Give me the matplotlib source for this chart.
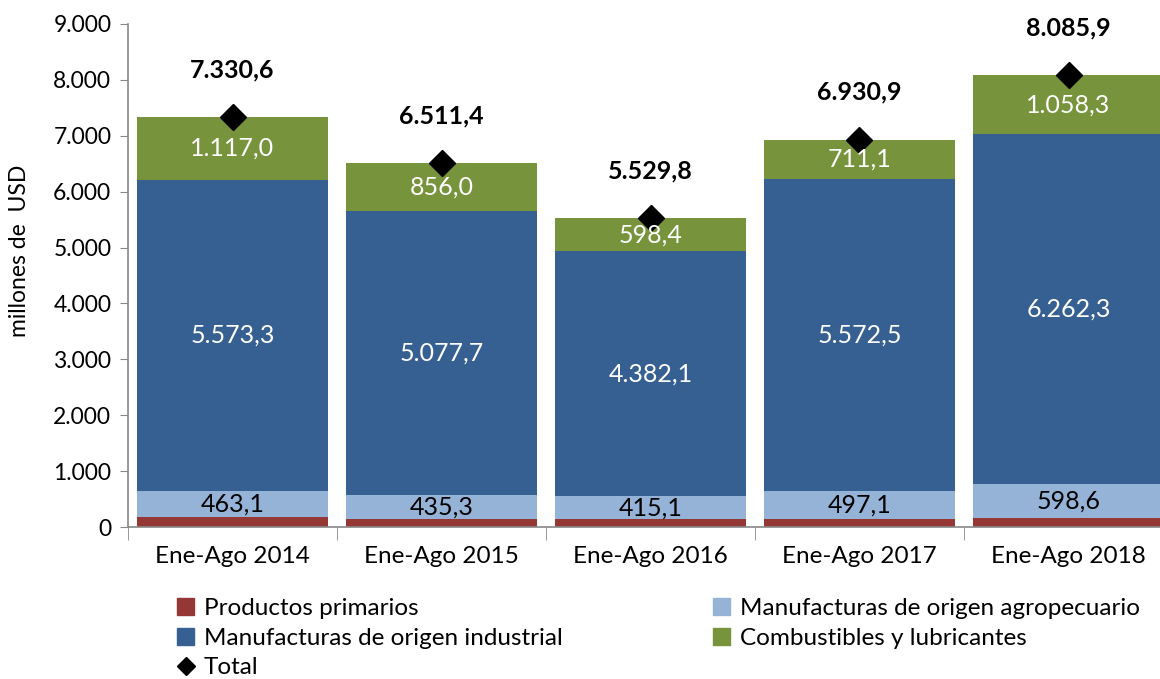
import numpy as np
import matplotlib.pyplot as plt
from matplotlib.lines import Line2D
from matplotlib.patches import Patch

plt.rcParams['font.family'] = ['Lato', 'DejaVu Sans']

# Data (millones de USD)
periodos = ['Ene-Ago 2014', 'Ene-Ago 2015', 'Ene-Ago 2016', 'Ene-Ago 2017', 'Ene-Ago 2018']
primarios = [177.2, 142.4, 134.2, 150.2, 166.7]
moa = [463.1, 435.3, 415.1, 497.1, 598.6]
moi = [5573.3, 5077.7, 4382.1, 5572.5, 6262.3]
combustibles = [1117.0, 856.0, 598.4, 711.1, 1058.3]
total = [7330.6, 6511.4, 5529.8, 6930.9, 8085.9]


def fmt(v, dec=1):
    s = f"{v:,.{dec}f}"
    return s.replace(',', 'X').replace('.', ',').replace('X', '.')


c_pp = '#953735'
c_moa = '#95B3D7'
c_moi = '#376092'
c_comb = '#77933C'

fig = plt.figure(figsize=(11.6, 6.79), dpi=100)
ax = fig.add_axes([128 / 1160, 152 / 679, 1045 / 1160, 503 / 679])

x = np.arange(len(periodos))
w = 0.91
b1 = np.array(primarios)
b2 = b1 + np.array(moa)
b3 = b2 + np.array(moi)

ax.bar(x, primarios, w, color=c_pp)
ax.bar(x, moa, w, bottom=b1, color=c_moa)
ax.bar(x, moi, w, bottom=b2, color=c_moi)
ax.bar(x, combustibles, w, bottom=b3, color=c_comb)
ax.plot(x, total, 'D', color='black', markersize=13, linestyle='none')

for i in range(len(x)):
    ax.text(x[i], b1[i] + moa[i] / 2, fmt(moa[i]), ha='center', va='center',
            fontsize=18, color='black')
    ax.text(x[i], b2[i] + moi[i] / 2, fmt(moi[i]), ha='center', va='center',
            fontsize=18, color='white')
    ax.text(x[i], b3[i] + combustibles[i] / 2, fmt(combustibles[i]), ha='center',
            va='center', fontsize=18, color='white')
    ax.annotate(fmt(total[i]), (x[i], total[i]), xytext=(0, 34),
                textcoords='offset points', ha='center', va='center',
                fontsize=18, fontweight='bold')

ax.set_xlim(-0.5, len(x) - 0.5)
ax.set_ylim(0, 9000)
ax.set_yticks(np.arange(0, 9001, 1000))
ax.set_yticklabels([fmt(v, 0) for v in np.arange(0, 9001, 1000)], fontsize=16.5)
ax.set_xticks(x)
ax.set_xticklabels(periodos, fontsize=17.5)
ax.set_xticks(np.arange(-0.5, len(x)), minor=True)
ax.tick_params(axis='x', which='major', length=0, pad=14)
ax.tick_params(axis='x', which='minor', length=9, color='#888888', direction='out')
ax.tick_params(axis='y', length=6, color='#888888', direction='out', pad=6)
for s in ['top', 'right']:
    ax.spines[s].set_visible(False)
for s in ['left', 'bottom']:
    ax.spines[s].set_color('#888888')
    ax.spines[s].set_linewidth(1.2)
ax.set_ylabel('millones de  USD', fontsize=16.5)
ax.yaxis.set_label_coords(-0.094, 0.55)

handles = [
    Patch(color=c_pp, label='Productos primarios'),
    Patch(color=c_moi, label='Manufacturas de origen industrial'),
    Line2D([], [], marker='D', color='black', linestyle='none', markersize=9, label='Total'),
    Patch(color=c_moa, label='Manufacturas de origen agropecuario'),
    Patch(color=c_comb, label='Combustibles y lubricantes'),
]
fig.legend(handles=handles, ncol=2, loc='lower left', bbox_to_anchor=(160 / 1160, -0.024),
           frameon=False, fontsize=17.5, handlelength=0.7, handleheight=0.7,
           handletextpad=0.4, labelspacing=0.35, columnspacing=6.2, borderpad=0.2)

plt.savefig('out.png', dpi=100)
